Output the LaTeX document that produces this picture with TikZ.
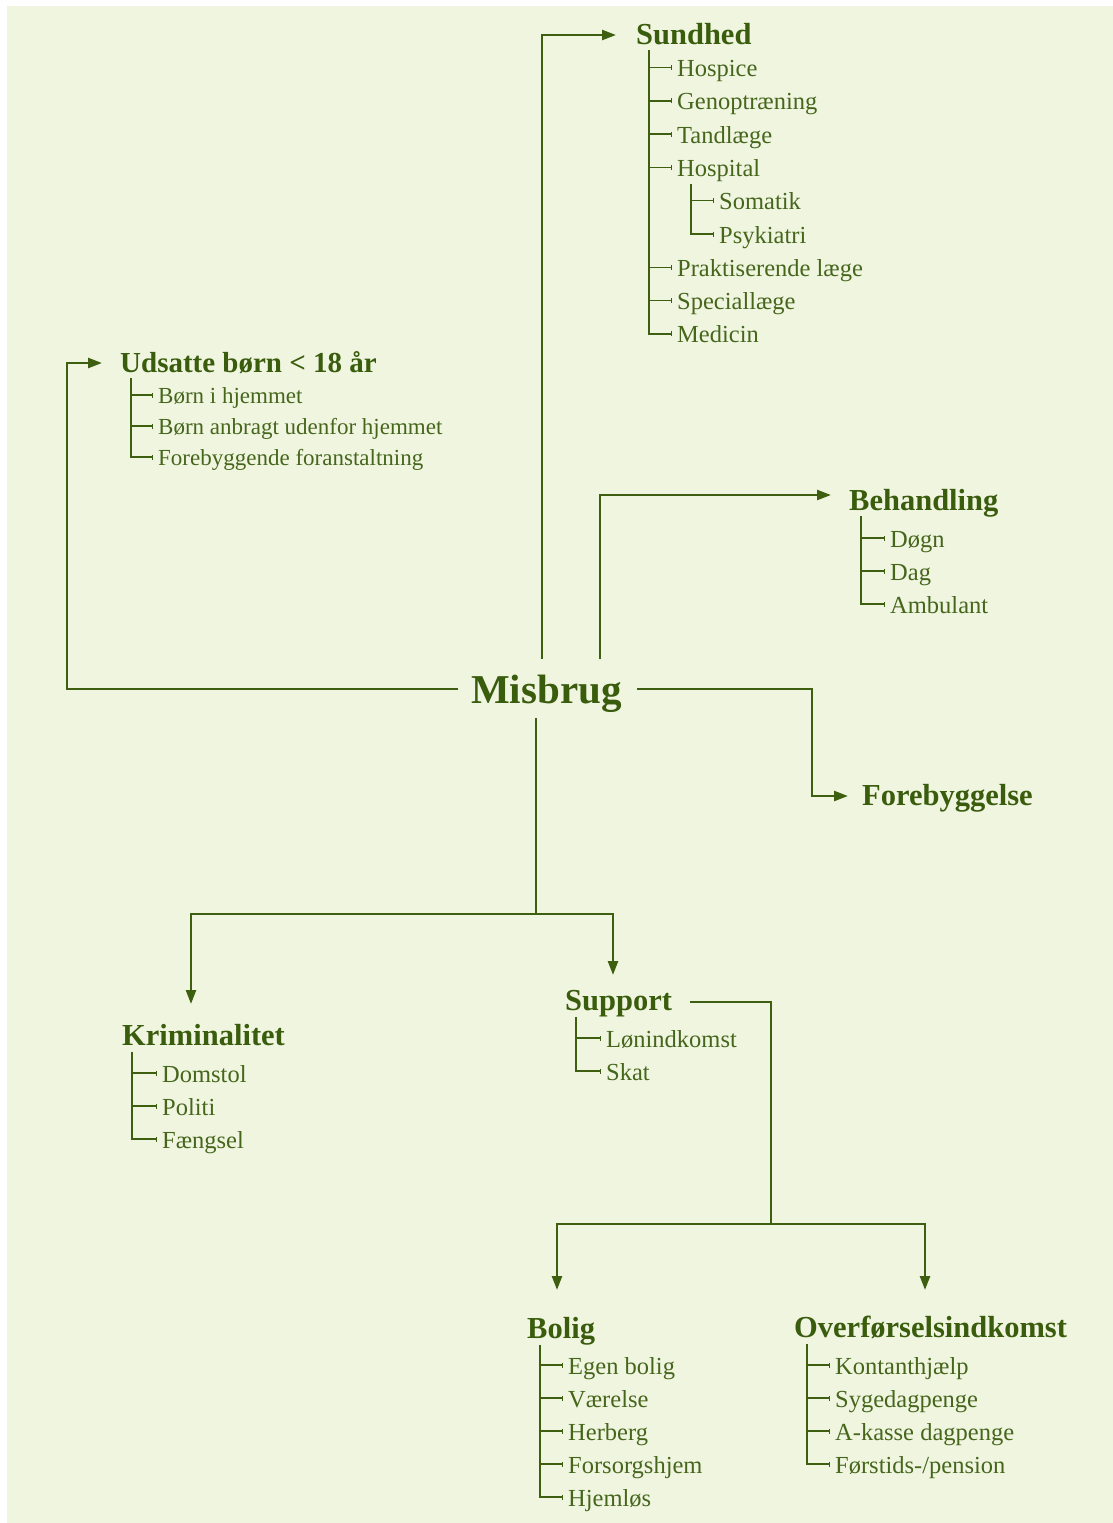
\documentclass[tikz,border=0pt]{standalone}
\usepackage{fontspec}
\setmainfont{Liberation Serif}
\usetikzlibrary{arrows.meta}
\definecolor{bg}{RGB}{240,245,224}
\definecolor{tcol}{RGB}{58,92,13}
\definecolor{ccol}{RGB}{70,102,28}
\definecolor{lcol}{RGB}{62,95,16}
\begin{document}
\begin{tikzpicture}[x=1pt,y=-1pt,
 title/.style={anchor=base west,inner sep=0pt,text=tcol,font=\fontsize{30.5pt}{36pt}\selectfont\bfseries},
 item/.style={anchor=base west,inner sep=0pt,text=ccol,text height=18pt,text depth=0pt,font=\fontsize{24.5pt}{29pt}\selectfont},
 smallitem/.style={item,text height=17pt,font=\fontsize{23pt}{27pt}\selectfont},
 conn/.style={draw=lcol,line width=2.4pt},
 arr/.style={conn,-{Triangle[length=14pt,width=10pt]}},
 tree/.style={draw=lcol,line width=1.4pt},
 twig/.style={tree,-{Bar[width=5pt,line width=1pt]}}]
\useasboundingbox (0,0) rectangle (1113,1523);
\fill[bg] (7,6) rectangle (1113,1523);

% Centre
\node[title,font=\fontsize{41pt}{48pt}\selectfont\bfseries] (mis) at (471,703) {Misbrug};
\coordinate (mL) at (458,689);
\coordinate (mR) at (637,689);
\coordinate (mT1) at (542,659);
\coordinate (mT2) at (600,659);
\coordinate (mB) at (536,718);

% Sundhed
\node[title] (sund) at (636,44) {Sundhed};
\node[item] (s1) at (677,76.5) {Hospice};
\node[item] (s2) at (677,109.8) {Genoptræning};
\node[item] (s3) at (677,143.1) {Tandlæge};
\node[item] (s4) at (677,176.4) {Hospital};
\node[item] (s5) at (719,209.7) {Somatik};
\node[item] (s6) at (719,243) {Psykiatri};
\node[item] (s7) at (677,276.3) {Praktiserende læge};
\node[item] (s8) at (677,309.6) {Speciallæge};
\node[item] (s9) at (677,342.9) {Medicin};
\coordinate (st) at (649,50);
\draw[twig] (st) |- ([xshift=-5pt]s9.west);
\foreach \n in {s1,s2,s3,s4,s7,s8} {\draw[twig] (st |- \n.west) -- ([xshift=-5pt]\n.west);}
\coordinate (ht) at (691,184);
\draw[twig] (ht) |- ([xshift=-5pt]s6.west);
\draw[twig] (ht |- s5.west) -- ([xshift=-5pt]s5.west);

% Udsatte
\node[title,font=\fontsize{29pt}{34pt}\selectfont\bfseries] (uds) at (120,372) {Udsatte børn < 18 år};
\node[smallitem] (u1) at (158,403.5) {Børn i hjemmet};
\node[smallitem] (u2) at (158,434.5) {Børn anbragt udenfor hjemmet};
\node[smallitem] (u3) at (158,465.5) {Forebyggende foranstaltning};
\coordinate (ut) at (131,378);
\draw[twig] (ut) |- ([xshift=-5pt]u3.west);
\foreach \n in {u1,u2} {\draw[twig] (ut |- \n.west) -- ([xshift=-5pt]\n.west);}

% Behandling
\node[title] (beh) at (849,510) {Behandling};
\node[item] (b1) at (890,547) {Døgn};
\node[item] (b2) at (890,580) {Dag};
\node[item] (b3) at (890,613) {Ambulant};
\coordinate (bt) at (861,516);
\draw[twig] (bt) |- ([xshift=-5pt]b3.west);
\foreach \n in {b1,b2} {\draw[twig] (bt |- \n.west) -- ([xshift=-5pt]\n.west);}

% Forebyggelse
\node[title] (fore) at (862,805) {Forebyggelse};

% Kriminalitet
\node[title] (krim) at (122,1045) {Kriminalitet};
\node[item] (k1) at (162,1082) {Domstol};
\node[item] (k2) at (162,1115) {Politi};
\node[item] (k3) at (162,1148) {Fængsel};
\coordinate (kt) at (132,1052);
\draw[twig] (kt) |- ([xshift=-5pt]k3.west);
\foreach \n in {k1,k2} {\draw[twig] (kt |- \n.west) -- ([xshift=-5pt]\n.west);}

% Support
\node[title] (sup) at (565,1010) {Support};
\node[item] (p1) at (606,1047) {Lønindkomst};
\node[item] (p2) at (606,1080) {Skat};
\coordinate (pt) at (576,1017);
\draw[twig] (pt) |- ([xshift=-5pt]p2.west);
\draw[twig] (pt |- p1.west) -- ([xshift=-5pt]p1.west);

% Bolig
\node[title] (bol) at (527,1338) {Bolig};
\node[item] (o1) at (568,1374) {Egen bolig};
\node[item] (o2) at (568,1407) {Værelse};
\node[item] (o3) at (568,1440) {Herberg};
\node[item] (o4) at (568,1473) {Forsorgshjem};
\node[item] (o5) at (568,1506) {Hjemløs};
\coordinate (ot) at (540,1345);
\draw[twig] (ot) |- ([xshift=-5pt]o5.west);
\foreach \n in {o1,o2,o3,o4} {\draw[twig] (ot |- \n.west) -- ([xshift=-5pt]\n.west);}

% Overfoerselsindkomst
\node[title] (ovf) at (794,1337) {Overførselsindkomst};
\node[item] (v1) at (835,1374) {Kontanthjælp};
\node[item] (v2) at (835,1407) {Sygedagpenge};
\node[item] (v3) at (835,1440) {A-kasse dagpenge};
\node[item] (v4) at (835,1473) {Førstids-/pension};
\coordinate (vt) at (807,1344);
\draw[twig] (vt) |- ([xshift=-5pt]v4.west);
\foreach \n in {v1,v2,v3} {\draw[twig] (vt |- \n.west) -- ([xshift=-5pt]\n.west);}

% Connectors
\coordinate (aS) at (616,35);
\coordinate (udc) at (67,363);
\coordinate (aU) at (102,363);
\coordinate (aB) at (831,495);
\coordinate (fc) at (812,796);
\coordinate (aF) at (848,796);
\coordinate (bj) at (536,914);
\coordinate (aK) at (191,1004);
\coordinate (aSu) at (613,975);
\coordinate (supR) at (690,1002);
\coordinate (sj) at (771,1224);
\coordinate (aBo) at (557,1290);
\coordinate (aO) at (925,1290);

\draw[arr] (mT1) |- (aS);
\draw[arr] (mL) -| (udc) -- (aU);
\draw[arr] (mT2) |- (aB);
\draw[arr] (mR) -| (fc) -- (aF);
\draw[conn] (mB) -- (bj);
\draw[arr] (bj) -| (aK);
\draw[arr] (bj) -| (aSu);
\draw[conn] (supR) -| (sj);
\draw[arr] (sj) -| (aBo);
\draw[arr] (sj) -| (aO);
\end{tikzpicture}
\end{document}
